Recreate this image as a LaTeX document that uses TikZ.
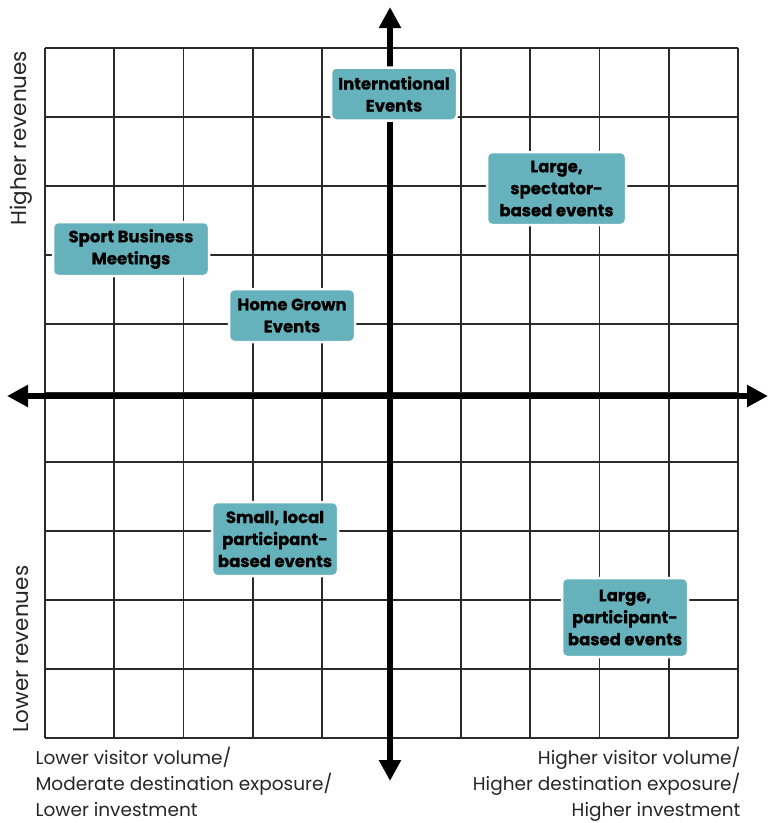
\documentclass[tikz,border=0pt]{standalone}
\usepackage{fontspec}
\setmainfont{Poppins}[BoldFeatures={FakeBold=0.7}]
\usetikzlibrary{arrows.meta}
\definecolor{boxteal}{HTML}{65B2BD}
\definecolor{gridgray}{HTML}{2A2A2A}
\tikzset{
  gridline/.style={draw=gridgray, line width=1.7pt},
  axisline/.style={draw=black, line width=6.5pt, -{Triangle[width=21pt,length=21pt]}},
  eventbox/.style={fill=boxteal, draw=white, line width=2.5pt, rounded corners=5pt,
    align=center, font=\fontsize{16.5}{22}\selectfont\bfseries, inner sep=0pt},
  axislabel/.style={font=\fontsize{18.5}{26}\selectfont, text=black!85},
  sidelabel/.style={font=\fontsize{21.5}{26}\selectfont, text=black!85},
}
\begin{document}
\begin{tikzpicture}[x=1pt,y=-1pt]
\useasboundingbox (0,0) rectangle (768,823);
% grid
\foreach \i in {0,...,10} {
  \draw[gridline] ({45+69.3*\i},48) -- ({45+69.3*\i},738);
  \draw[gridline] (45,{48+69*\i}) -- (738,{48+69*\i});
}
% axes
\coordinate (xl) at (390,396);
\coordinate (xw) at (7,396);
\coordinate (xe) at (768,396);
\coordinate (yn) at (390,7);
\coordinate (ys) at (390,781);
\draw[axisline] (xl) -- (xw);
\draw[axisline] (xl) -- (xe);
\draw[axisline] (xl) -- (yn);
\draw[axisline] (xl) -- (ys);
% event boxes
\node[eventbox, minimum width=126pt, minimum height=53pt] (intl) at (394,94) {International\\Events};
\node[eventbox, minimum width=139pt, minimum height=73pt] (spect) at (556.5,188.5) {Large,\\spectator-\\based events};
\node[eventbox, minimum width=156pt, minimum height=54pt] (sbm) at (131,249) {Sport Business\\Meetings};
\node[eventbox, minimum width=126pt, minimum height=53pt] (home) at (292,315.5) {Home Grown\\Events};
\node[eventbox, minimum width=126pt, minimum height=74pt] (small) at (275,539) {Small, local\\participant-\\based events};
\node[eventbox, minimum width=126pt, minimum height=79pt] (partic) at (625,617.5) {Large,\\participant-\\based events};
% axis labels
\node[sidelabel, rotate=90] (hirev) at (21,138) {Higher revenues};
\node[sidelabel, rotate=90] (lorev) at (21,649) {Lower revenues};
\node[axislabel, align=left, anchor=north west] (lowx) at (32,744) {Lower visitor volume/\\Moderate destination exposure/\\Lower investment};
\node[axislabel, align=right, anchor=north east] (highx) at (744,744) {Higher visitor volume/\\Higher destination exposure/\\Higher investment};
\end{tikzpicture}
\end{document}
